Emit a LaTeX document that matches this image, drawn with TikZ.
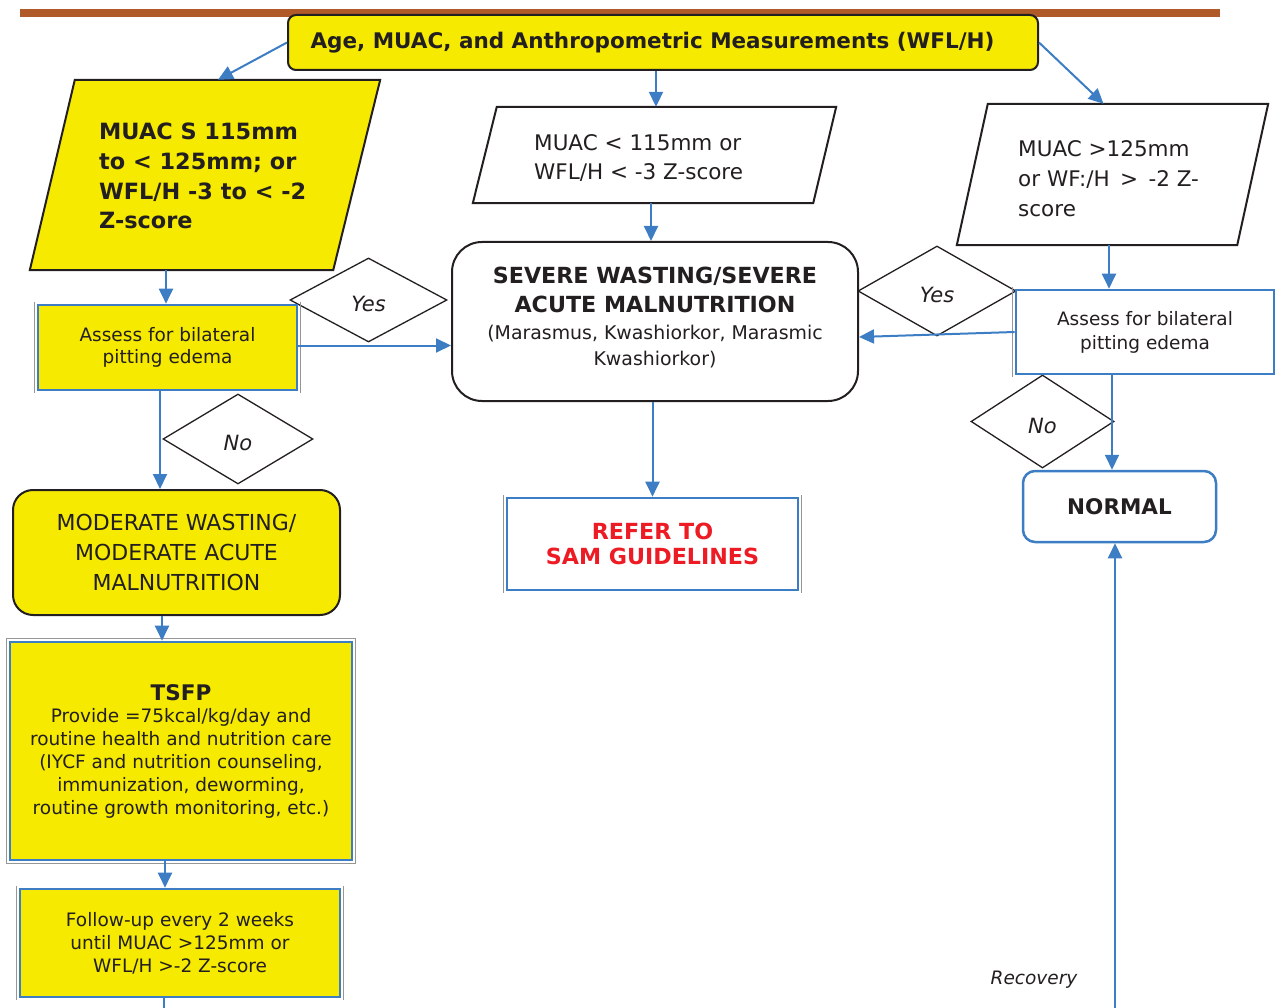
\documentclass[tikz,border=0pt]{standalone}
\usepackage{fontspec}
\setmainfont{DejaVu Sans}
\usetikzlibrary{arrows.meta,shapes.geometric,calc}

\definecolor{fillyellow}{RGB}{245,234,0}
\definecolor{linkblue}{RGB}{60,125,196}
\definecolor{rulebrown}{RGB}{176,90,42}
\definecolor{inkdark}{RGB}{35,31,32}
\definecolor{alertred}{RGB}{237,28,36}
\definecolor{edgegray}{RGB}{150,150,150}

\begin{document}
\begin{tikzpicture}[
  x=1pt, y=-1pt,
  every node/.style={text=inkdark, inner sep=0pt},
  bigbold/.style={font=\fontsize{21.5}{29.5}\selectfont\bfseries},
  ghost/.style={rectangle, draw=none},
  outline/.style={draw=inkdark, line width=2pt},
  decision/.style={diamond, draw=inkdark, line width=1.3pt, fill=white,
    font=\fontsize{21}{21}\selectfont\itshape, text height=23pt, text depth=0pt},
  arr/.style={draw=linkblue, line width=2pt, -{Triangle[length=15pt,width=14pt]}},
  plainline/.style={draw=linkblue, line width=2pt},
  bluebox/.style={rectangle, draw=linkblue, line width=2.6pt, align=center},
  termbox/.style={rectangle, outline, align=center},
]
\useasboundingbox (0,0) rectangle (1277,1008);

% header rule
\draw[rulebrown, line width=8pt] (20,13) -- (1220,13);

% top box
\node[termbox, rounded corners=8pt, fill=fillyellow, minimum width=750pt,
      minimum height=55pt, bigbold] (top) at (663,42.5)
      {Age, MUAC, and Anthropometric Measurements (WFL/H)\hspace*{21pt}};

% left parallelogram (moderate criteria)
\node[ghost, minimum width=350pt, minimum height=190pt] (lpara) at (205,175) {};
\draw[outline, fill=fillyellow] ([xshift=45pt]lpara.north west) -- (lpara.north east)
  -- ([xshift=-47pt]lpara.south east) -- (lpara.south west) -- cycle;
\node[anchor=west, align=left, font=\fontsize{22.4}{29.7}\selectfont\bfseries] (lparatext) at (99,176)
  {MUAC S 115mm\\to < 125mm; or\\WFL/H -3 to < -2\\Z-score};

% middle parallelogram (severe criteria)
\node[ghost, minimum width=363pt, minimum height=96pt] (mpara) at (654.5,155) {};
\draw[outline, fill=white] ([xshift=24pt]mpara.north west) -- (mpara.north east)
  -- ([xshift=-23pt]mpara.south east) -- (mpara.south west) -- cycle;
\node[anchor=west, align=left, font=\fontsize{21.5}{29}\selectfont] (mparatext) at (534,158)
  {MUAC < 115mm or\\WFL/H < -3 Z-score};

% right parallelogram (normal criteria)
\node[ghost, minimum width=311pt, minimum height=141pt] (rpara) at (1112.5,174.5) {};
\draw[outline, fill=white] ([xshift=31pt]rpara.north west) -- (rpara.north east)
  -- ([xshift=-31pt]rpara.south east) -- (rpara.south west) -- cycle;
\node[anchor=west, align=left, font=\fontsize{21.5}{30}\selectfont] (rparatext) at (1018,178.5)
  {MUAC >125mm\\or WF:/H \,>\, -2 Z-\\score};

% decisions
\node[decision, minimum width=157pt, minimum height=84pt] (yesL) at (368.5,300) {Yes};
\node[decision, minimum width=150pt, minimum height=90pt] (noL) at (238,439) {No};
\node[decision, minimum width=158pt, minimum height=90pt] (yesR) at (937,291) {Yes};
\node[decision, minimum width=143pt, minimum height=93pt] (noR) at (1042.5,421.5) {No};

% severe outcome
\node[termbox, rounded corners=30pt, fill=white, minimum width=406pt, minimum height=159pt]
  (severe) at (655,321.5) {};
\node[align=center, font=\fontsize{18.9}{26}\selectfont] (severetext) at (655,317.5)
  {{\fontsize{22.2}{30}\selectfont\bfseries SEVERE WASTING/SEVERE}\\[3pt]
   {\fontsize{22.2}{30}\selectfont\bfseries ACUTE MALNUTRITION}\\[1pt]
   (Marasmus, Kwashiorkor, Marasmic\\Kwashiorkor)};

\node[bluebox, fill=white, minimum width=291pt, minimum height=92pt,
      font=\fontsize{22.2}{25}\selectfont\bfseries, text=alertred] (refer) at (652.5,544)
  {REFER TO\\SAM GUIDELINES};

% assessment boxes
\node[bluebox, fill=fillyellow, minimum width=259pt, minimum height=85pt,
      font=\fontsize{18.5}{22}\selectfont] (lassess) at (167.5,347.5)
  {Assess for bilateral\\pitting edema};
\node[bluebox, fill=white, minimum width=258pt, minimum height=84pt,
      font=\fontsize{18.5}{24}\selectfont] (rassess) at (1145,332)
  {Assess for bilateral\\pitting edema};

% moderate pathway
\node[termbox, rounded corners=20pt, fill=fillyellow, minimum width=327pt, minimum height=125pt,
      font=\fontsize{22}{30}\selectfont] (moderate) at (176.5,552.5)
  {MODERATE WASTING/\\MODERATE ACUTE\\MALNUTRITION};

\node[bluebox, fill=fillyellow, minimum width=342pt, minimum height=218pt,
      font=\fontsize{18.5}{22.8}\selectfont] (tsfp) at (181,751)
  {{\fontsize{21.5}{25}\selectfont\bfseries TSFP}\\
   Provide =75kcal/kg/day and\\routine health and nutrition care\\
   (IYCF and nutrition counseling,\\immunization, deworming,\\
   routine growth monitoring, etc.)};

\node[bluebox, fill=fillyellow, minimum width=320pt, minimum height=108pt,
      font=\fontsize{18.5}{23}\selectfont] (follow) at (180,943)
  {Follow-up every 2 weeks\\until MUAC >125mm or\\WFL/H >-2 Z-score};

% normal outcome
\node[rectangle, rounded corners=12pt, draw=linkblue, line width=2.5pt, fill=white,
      minimum width=193pt, minimum height=71pt, bigbold] (normal) at (1119.5,506.5) {NORMAL};

\node[font=\fontsize{18.5}{22}\selectfont\itshape] (recovery) at (1034,980) {Recovery};

% gray outer edges of the framed boxes
\foreach \n in {lassess,refer,rassess,follow} {
  \draw[edgegray, line width=1.5pt]
    ([shift={(-2pt,1.3pt)}]\n.north west) -- ([shift={(-2pt,-1.3pt)}]\n.south west);
  \draw[edgegray, line width=1.5pt]
    ([shift={(2pt,1.3pt)}]\n.north east) -- ([shift={(2pt,-1.3pt)}]\n.south east);
}
\draw[edgegray, line width=1.5pt]
  ([shift={(-2pt,2pt)}]tsfp.north west) rectangle ([shift={(2pt,-2pt)}]tsfp.south east);

% connectors
\draw[arr] (top.west) -- ([xshift=13pt]lpara.north);
\draw[arr] ([xshift=-7pt]top.south) -- ([xshift=-7pt]top.south |- mpara.north);
\draw[arr] (top.east) -- ([xshift=-9pt]rpara.north);
\draw[arr] ([xshift=-3.5pt]mpara.south) -- ([xshift=-3.5pt]mpara.south |- severe.north);
\draw[arr] (severe.south -| refer.north) -- (refer.north);
\draw[arr] ([xshift=-1.5pt]lpara.south -| lassess.north) -- ([xshift=-1.5pt]lassess.north);
\draw[arr] ([yshift=2pt]lassess.east) -- ([yshift=2pt]lassess.east -| severe.west);
\draw[arr] ([xshift=-7.5pt]lassess.south) -- ([xshift=-7.5pt]lassess.south |- moderate.north);
\draw[arr] ([xshift=-14.5pt]moderate.south) -- ([xshift=-14.5pt]moderate.south |- tsfp.north);
\draw[arr] ([xshift=-16pt]tsfp.south) -- ([xshift=-16pt]tsfp.south |- follow.north);
\coordinate (followend) at (164,1010);
\draw[plainline] ([xshift=-16pt]follow.south) -- (followend);
\draw[arr] ([xshift=-3.5pt]rpara.south) -- ([xshift=-3.5pt]rpara.south |- rassess.north);
\draw[arr] (rassess.west) -- ([yshift=-15.5pt]severe.east);
\draw[arr] ([xshift=-33pt]rassess.south) -- ([xshift=-33pt]rassess.south |- normal.north);
\coordinate (recstart) at (1115,1010);
\draw[arr] (recstart) -- (recstart |- normal.south);
\end{tikzpicture}
\end{document}
